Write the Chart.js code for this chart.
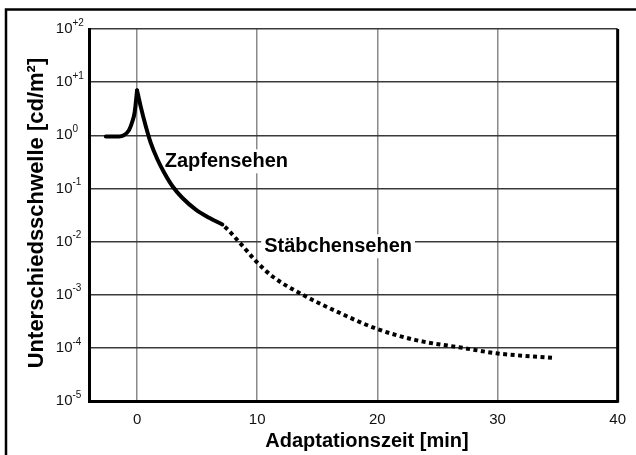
<!DOCTYPE html>
<html lang="de">
<head>
<meta charset="utf-8">
<title>Adaptationszeit</title>
<script src="https://cdn.jsdelivr.net/npm/chart.js@4/dist/chart.umd.min.js"></script>
<style>
    html, body { margin: 0; padding: 0; background: #fff; }
    canvas { display: block; }
</style>
</head>
<body>
<canvas id="adaptChart" width="636" height="455"></canvas>
<script>
// Werte (x in min, y in cd/m²)

// Zapfensehen: Anstieg bis zur Spitze bei t = 0
const zeitAnstieg = [-2.6, -1.5, -1.1, -0.67, -0.4, -0.2, 0];
const schwelleAnstieg = [0.95, 0.95, 1.0, 1.25, 1.8, 2.7, 7];

// Zapfensehen: Abfall nach der Spitze
const zeitZapfen = [0, 0.3, 0.72, 1.14, 1.7, 2.25, 2.95, 3.78, 4.89, 6.0, 7.1];
const schwelleZapfen = [7, 3.5, 1.5, 0.72, 0.35, 0.2, 0.11, 0.066, 0.04, 0.028, 0.021];

// Stäbchensehen (gepunktet)
const zeitStaebchen = [7.3, 7.64, 8.78, 9.89, 11.28, 13.78, 16.56, 19.9, 23.2, 27.1, 29.9, 34.6];
const schwelleStaebchen = [0.019, 0.016, 0.0083, 0.0043, 0.0022, 0.001, 0.00049, 0.00023, 0.00014, 0.0001, 0.000079, 0.000065];

// Achsenteilung
const xTicks = [0, 10, 20, 30, 40];
const yTicks = [1e-5, 1e-4, 1e-3, 1e-2, 1e-1, 1e0, 1e1, 1e2];
const yExponenten = ['-5', '-4', '-3', '-2', '-1', '0', '+1', '+2'];

// Beschriftungen im Diagramm: Text, x, y (Grundlinie)
const kurvenTexte = ['Zapfensehen', 'Stäbchensehen'];
const kurvenTextX = [2.3, 10.58];
const kurvenTextY = [0.25, 0.0063];

const SCHRIFT = '"Liberation Sans", Arial, sans-serif';

function punkte(xs, ys) {
    return xs.map((x, i) => ({ x: x, y: ys[i] }));
}

// Titel, Exponenten-Beschriftung, Rahmen
const beschriftung = {
    id: 'beschriftung',
    beforeDatasetsDraw(chart) {
        const { ctx, scales: { x, y } } = chart;
        ctx.save();
        ctx.font = 'bold 20px ' + SCHRIFT;
        ctx.textAlign = 'left';
        ctx.textBaseline = 'alphabetic';
        kurvenTexte.forEach((t, i) => {
            const px = x.getPixelForValue(kurvenTextX[i]);
            const py = y.getPixelForValue(kurvenTextY[i]);
            const w = ctx.measureText(t).width;
            ctx.fillStyle = '#fff';
            ctx.fillRect(px - 3, py - 18, w + 6, 24);
            ctx.fillStyle = '#000';
            ctx.fillText(t, px, py);
        });
        ctx.restore();
    },
    afterDraw(chart) {
        const { ctx, chartArea: a, scales: { y } } = chart;
        ctx.save();
        ctx.strokeStyle = '#000';

        // äußerer Rahmen (nur links und oben sichtbar)
        ctx.lineWidth = 2.5;
        ctx.beginPath();
        ctx.moveTo(6, 455);
        ctx.lineTo(6, 9.5);
        ctx.lineTo(640, 9.5);
        ctx.stroke();

        // rechter Rand der Zeichenfläche
        ctx.lineWidth = 3;
        ctx.beginPath();
        ctx.moveTo(a.right, a.top);
        ctx.lineTo(a.right, a.bottom + 1.5);
        ctx.stroke();

        // y-Beschriftung 10^n
        ctx.fillStyle = '#111';
        yTicks.forEach((v, i) => {
            const py = y.getPixelForValue(v);
            ctx.font = '15px ' + SCHRIFT;
            ctx.textAlign = 'right';
            ctx.textBaseline = 'middle';
            ctx.fillText('10', 72.5, py);
            ctx.font = '10px ' + SCHRIFT;
            ctx.textAlign = 'left';
            ctx.fillText(yExponenten[i], 72.5, py - 6);
        });

        // Achsentitel
        ctx.fillStyle = '#000';
        ctx.font = 'bold 20px ' + SCHRIFT;
        ctx.textAlign = 'center';
        ctx.textBaseline = 'alphabetic';
        ctx.fillText('Adaptationszeit [min]', 367, 447);

        ctx.font = 'bold 22px ' + SCHRIFT;
        ctx.translate(43, 213);
        ctx.rotate(-Math.PI / 2);
        ctx.fillText('Unterschiedsschwelle [cd/m²]', 0, 0);
        ctx.restore();
    }
};

const linie = {
    borderColor: '#000',
    backgroundColor: '#000',
    borderWidth: 4,
    pointRadius: 0,
    fill: false,
    cubicInterpolationMode: 'monotone'
};

new Chart(document.getElementById('adaptChart'), {
    type: 'line',
    data: {
        datasets: [
            Object.assign({ label: 'Anstieg', data: punkte(zeitAnstieg, schwelleAnstieg), borderCapStyle: 'round' }, linie),
            Object.assign({ label: 'Zapfensehen', data: punkte(zeitZapfen, schwelleZapfen), borderCapStyle: 'round' }, linie),
            Object.assign({ label: 'Stäbchensehen', data: punkte(zeitStaebchen, schwelleStaebchen), borderDash: [4, 3.5], borderCapStyle: 'butt' }, linie)
        ]
    },
    options: {
        responsive: false,
        animation: false,
        layout: { padding: { left: 0, top: 29, right: 18, bottom: 0 } },
        plugins: {
            legend: { display: false },
            tooltip: { enabled: false },
            title: { display: false }
        },
        scales: {
            x: {
                type: 'linear',
                min: -4,
                max: 40,
                afterBuildTicks: s => { s.ticks = xTicks.map(v => ({ value: v })); },
                afterFit: s => { s.height = 54; },
                ticks: {
                    color: '#111',
                    font: { family: SCHRIFT, size: 15 },
                    padding: 10,
                    maxRotation: 0
                },
                grid: { color: '#8a8a8a', lineWidth: 1.5, drawTicks: false },
                border: { color: '#000', width: 3 }
            },
            y: {
                type: 'logarithmic',
                min: 1e-5,
                max: 1e2,
                afterBuildTicks: s => { s.ticks = yTicks.map(v => ({ value: v })); },
                afterFit: s => { s.width = 89; },
                ticks: { display: false },
                grid: { color: '#3a3a3a', lineWidth: 1.5, drawTicks: false },
                border: { color: '#000', width: 3 }
            }
        }
    },
    plugins: [beschriftung]
});
</script>
</body>
</html>
